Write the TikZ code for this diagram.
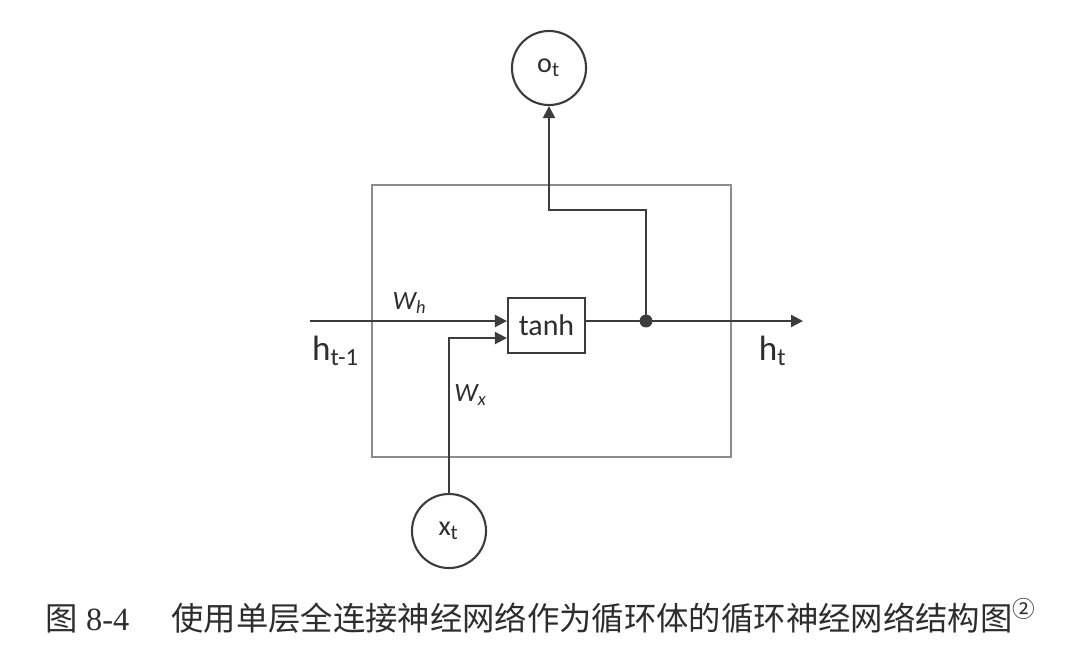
\documentclass[tikz,border=0pt]{standalone}
\usepackage{fontspec}
\setmainfont{Carlito}
\newfontfamily\cjk{Noto Sans CJK SC}
\newfontfamily\capnum{Liberation Serif}
\usepackage{tikz}
\usetikzlibrary{arrows.meta}
\definecolor{wire}{RGB}{60,60,60}
\definecolor{frame}{RGB}{140,140,140}
\definecolor{ink}{RGB}{45,45,45}
\tikzset{
  jwire/.style={wire,line width=0.6pt},
  jarrow/.style={jwire,-{Triangle[length=1.2mm,width=1.2mm]}},
  jframe/.style={frame,line width=0.45pt},
  jcirc/.style={circle,draw=wire,line width=0.6pt,minimum size=0.74cm,inner sep=0pt,
                text=ink,font=\fontsize{8}{9}\selectfont},
  jcell/.style={draw=wire,line width=0.6pt,minimum width=0.77cm,minimum height=0.55cm,
                inner sep=0pt,text=ink,font=\fontsize{8.5}{10}\selectfont},
  jdot/.style={circle,fill=wire,inner sep=1.3pt},
  jlab/.style={text=ink,inner sep=0pt},
}
\begin{document}
\begin{tikzpicture}[x=0.01cm,y=-0.01cm]
  \useasboundingbox (0,0) rectangle (1086,663);
  % ---- the recurrent body ----
  \draw[jframe] (372,185) rectangle (731,457);
  \node[jcell] (cell) at (546.5,325.5) {tanh};
  \node[jcirc] (out) at (549,68) {o\textsubscript{t}};
  \node[jcirc] (in) at (449,531) {x\textsubscript{t}};
  \coordinate (hin) at (310,321);
  \coordinate (hend) at (803,321);
  \coordinate (split) at (646,321);
  \coordinate (bend) at (646,210);
  % ---- connectors ----
  \draw[jarrow] (hin) -- (hin -| cell.west);
  \draw[jarrow] (in.north) |- ([yshift=-0.125cm]cell.west);
  \draw[jarrow] (cell.east |- hin) -- (hend);
  \draw[jarrow] (split) -- (bend) -| (out.south);
  \node[jdot] (dot) at (split) {};
  % ---- labels ----
  \node[jlab,font=\fontsize{7.5}{9}\selectfont\itshape] (wh) at (410,303) {W\textsubscript{h}};
  \node[jlab,font=\fontsize{7.5}{9}\selectfont\itshape] (wx) at (471,395) {W\textsubscript{x}};
  \node[jlab,font=\fontsize{10}{12}\selectfont] (hprev) at (336,351) {h\textsubscript{t-1}};
  \node[jlab,font=\fontsize{10}{12}\selectfont] (hnext) at (773,351) {h\textsubscript{t}};
  \node[jlab,anchor=west,font=\fontsize{9.2}{11}\selectfont\cjk] (caption) at (45,616)
     {图\hspace{0.25em}{\capnum 8-4}\hspace{1.3em}使用单层全连接神经网络作为循环体的循环神经网络结构图\textsuperscript{②}};
\end{tikzpicture}
\end{document}
